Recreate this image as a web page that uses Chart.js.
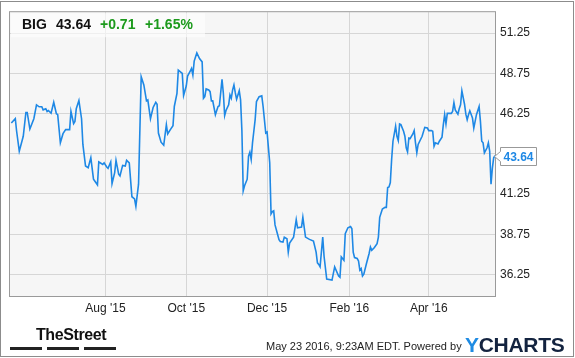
<!DOCTYPE html>
<html>
<head>
<meta charset="utf-8">
<script src="https://cdn.jsdelivr.net/npm/chart.js@4.4.1/dist/chart.umd.min.js"></script>
<style>
  body { margin: 0; background: #fff; }
  #wrap { position: relative; width: 575px; height: 358px; font-family: "Liberation Sans", Arial, sans-serif; }
  #wrap canvas { position: absolute; left: 0; top: 0; }
  .t { position: absolute; white-space: nowrap; line-height: 14px; }
  .hd { top: 17px; font-size: 14px; font-weight: bold; color: #111; }
  .up { color: #1c9a1c; }
  .bar { position: absolute; top: 347px; height: 3px; background: #222; }
</style>
</head>
<body>
<div id="wrap">
  <canvas id="chart" width="575" height="358"></canvas>
  <span class="t hd" id="tk" style="left:22px"></span>
  <span class="t hd" id="px" style="left:56px"></span>
  <span class="t hd up" id="ch" style="left:100px"></span>
  <span class="t hd up" id="pc" style="left:145px"></span>
  <span class="t" style="left:36px; top:328px; font-family:'Liberation Sans Narrow','Liberation Sans',sans-serif; font-weight:bold; font-size:16px; letter-spacing:-0.4px; color:#111;">TheStreet</span>
  <div class="bar" style="left:10px; width:32px"></div>
  <div class="bar" style="left:47px; width:32px"></div>
  <div class="bar" style="left:84px; width:32px"></div>
  <span class="t" style="left:266px; top:339px; font-size:11px; color:#222;">May 23 2016, 9:23AM EDT. Powered by</span>
  <span class="t" style="left:465px; top:334px; font-size:21px; line-height:21px; font-weight:bold; letter-spacing:-0.3px;"><span style="color:#1e8be3">Y</span><span style="color:#13233f">CHARTS</span></span>
</div>
<script>
// quote header
const ticker = 'BIG';
const lastQuote = '43.64';
const change = '+0.71';
const changePct = '+1.65%';

// days counted from 22 May 2015, closing prices
const days = [
  0, 3, 4, 6, 9, 11, 12, 14, 17, 19, 21, 23, 24, 26, 27, 28, 30, 32, 34, 35, 37, 39, 41, 44, 45, 47, 48, 49, 51, 53, 54, 56, 58, 60, 62, 65, 66,
  67, 69, 70, 72, 73, 75, 76, 78, 79, 81, 82, 84, 86, 87, 89, 91, 93, 94, 96, 98, 100, 102, 103, 105, 107, 109, 110, 111, 113, 115, 117, 118, 120, 122, 123, 125, 126, 129, 130, 132, 133, 135, 136, 137, 138, 139, 140, 142, 144,
  145, 146, 147, 149, 150, 151, 152, 154, 155, 156, 157, 159, 160, 161, 162, 164, 165, 166, 167, 168, 169, 170, 172, 173, 174, 175, 176, 178, 179, 180, 181, 182, 183, 184, 185, 187, 189, 190, 192, 193, 195, 196, 197, 198, 199, 201, 202, 203, 205,
  206, 208, 209, 210, 213, 215, 216, 219, 220, 222, 225, 228, 230, 231, 232, 233, 235, 236, 238, 242, 244, 247, 248, 249, 251, 252, 254, 256, 257, 258, 259, 261, 262, 263, 264, 265, 266, 268, 270, 271, 272, 274, 276, 277, 278, 280,
  282, 283, 284, 285, 286, 287, 288, 290, 291, 292, 293, 294, 296, 297, 298, 299, 300, 301, 303, 304, 305, 306, 307, 310, 312, 314, 315, 317, 318, 319, 320, 322, 323, 325, 326, 327, 328, 329, 332, 333, 334, 335, 337, 338, 339, 340, 342, 343, 344, 345, 346, 348, 349, 350, 351, 353, 354, 355, 356, 357, 359, 360, 361, 362, 363, 364, 365
];
const prices = [
  45.66, 45.93, 45.15, 43.91, 44.84, 46.32, 46.32, 45.29, 45.93, 46.79, 46.67, 46.67, 46.48, 46.55, 46.38, 46.44, 46.27, 46.95, 46.24, 46.18, 44.43, 45.00, 45.25, 45.25, 46.38, 45.62, 45.76, 46.55, 47.06, 45.93, 44.33, 42.99, 42.88, 43.50, 42.17, 41.82, 43.24,
  43.19, 43.09, 43.19, 42.93, 42.85, 43.24, 41.90, 42.58, 43.34, 42.48, 42.37, 43.03, 42.99, 43.34, 43.19, 41.08, 40.94, 40.48, 41.86, 48.54, 48.03, 47.04, 47.10, 45.93, 46.63, 46.95, 46.83, 45.04, 44.47, 44.28, 45.56, 44.98, 45.25, 45.50, 46.69, 47.51, 48.95, 48.74, 47.37, 47.96, 48.58, 48.89, 49.05, 48.64, 49.51, 49.77, 50.02, 49.67, 49.46,
  47.20, 47.30, 47.78, 47.72, 47.61, 47.04, 47.04, 46.18, 46.44, 46.69, 46.73, 48.37, 47.51, 46.13, 46.44, 46.79, 47.41, 47.20, 47.72, 48.03, 47.55, 47.14, 47.67, 47.10, 45.19, 41.45, 41.76, 42.17, 43.61, 43.85, 43.40, 44.43, 45.15, 45.87, 47.00, 47.30, 47.35, 46.69, 45.04, 45.10, 43.19, 40.01, 40.15, 40.20, 39.33, 38.72, 38.41, 38.30, 38.26,
  38.57, 38.47, 37.64, 38.20, 38.57, 39.66, 39.15, 39.19, 39.80, 38.57, 38.43, 38.32, 37.64, 36.97, 36.87, 36.72, 38.57, 37.38, 35.96, 35.90, 36.72, 36.15, 36.07, 37.34, 37.13, 38.78, 39.15, 39.23, 39.09, 37.64, 37.30, 37.24, 37.09, 36.52, 36.62, 36.15, 36.27, 36.93, 37.55, 37.95, 37.75, 37.92, 38.16, 38.57, 39.80, 40.32,
  40.42, 40.42, 41.65, 41.69, 41.96, 43.40, 44.53, 45.46, 44.84, 44.57, 45.60, 45.56, 45.15, 44.84, 44.12, 43.87, 44.73, 44.70, 44.98, 45.19, 44.43, 43.81, 44.33, 44.84, 45.39, 45.35, 45.19, 45.19, 45.15, 44.22, 44.43, 44.36, 44.53, 44.78, 45.56, 46.18, 45.60, 46.26, 46.26, 46.38, 46.93, 46.48, 46.21, 46.55, 46.79, 47.66, 46.83, 46.21, 45.87, 46.18, 46.42, 45.97, 45.35, 45.76, 46.18, 46.69, 45.76, 44.53, 44.43, 43.81, 44.12, 44.43, 43.91, 41.86, 42.85, 43.50, 43.64
];

const xTickDays = [71, 132, 193, 255, 315];
const xTickLabels = ["Aug '15", "Oct '15", "Dec '15", "Feb '16", "Apr '16"];
const yTicks = [36.25, 38.75, 41.25, 43.75, 46.25, 48.75, 51.25];

document.getElementById('tk').textContent = ticker;
document.getElementById('px').textContent = lastQuote;
document.getElementById('ch').textContent = change;
document.getElementById('pc').textContent = changePct;

const lastPrice = prices[prices.length - 1];
const blue = '#1e88e5';

// plot background, borders, header box and last price tag
const decor = {
  id: 'decor',
  beforeDraw(chart) {
    const { ctx, chartArea: a } = chart;
    ctx.save();
    ctx.fillStyle = '#f6f6f6';
    ctx.fillRect(a.left, a.top, a.right - a.left, a.bottom - a.top);
    ctx.restore();
  },
  afterDraw(chart) {
    const { ctx, chartArea: a } = chart;
    ctx.save();
    ctx.fillStyle = 'rgba(255,255,255,0.6)';
    ctx.fillRect(a.left + 1, a.top + 1, 194, 24);

    ctx.strokeStyle = '#9a9a9a';
    ctx.lineWidth = 1;
    ctx.strokeRect(a.left - 0.5, a.top - 0.5, a.right - a.left + 1, a.bottom - a.top + 1);

    ctx.strokeStyle = '#8c8c8c';
    ctx.strokeRect(0.5, 1.5, 573, 355);

    const py = Math.round(chart.scales.y.getPixelForValue(lastPrice)) + 0.5;
    const x0 = a.right - 0.5;
    ctx.beginPath();
    ctx.moveTo(x0, py);
    ctx.lineTo(x0 + 6, py - 5);
    ctx.lineTo(x0 + 6, py - 9);
    ctx.lineTo(x0 + 42, py - 9);
    ctx.lineTo(x0 + 42, py + 9);
    ctx.lineTo(x0 + 6, py + 9);
    ctx.lineTo(x0 + 6, py + 5);
    ctx.closePath();
    ctx.fillStyle = '#fff';
    ctx.fill();
    ctx.strokeStyle = '#999';
    ctx.stroke();
    ctx.fillStyle = blue;
    ctx.font = 'bold 12px "Liberation Sans", Arial, sans-serif';
    ctx.textAlign = 'center';
    ctx.textBaseline = 'middle';
    ctx.fillText(lastPrice.toFixed(2), x0 + 24, py + 1);
    ctx.restore();
  }
};

new Chart(document.getElementById('chart'), {
  type: 'line',
  data: {
    datasets: [{
      data: days.map((d, i) => ({ x: d, y: prices[i] })),
      borderColor: blue,
      borderWidth: 1.6,
      pointRadius: 0,
      tension: 0,
      fill: false
    }]
  },
  options: {
    responsive: false,
    animation: false,
    layout: { padding: { left: 10, top: 10, right: 0, bottom: 0 } },
    plugins: { legend: { display: false }, tooltip: { enabled: false } },
    scales: {
      x: {
        type: 'linear',
        min: -1,
        max: 365,
        afterBuildTicks: s => { s.ticks = xTickDays.map(v => ({ value: v })); },
        afterFit: s => { s.height = 62; },
        grid: { color: '#d6d6d6', drawTicks: false },
        border: { display: false },
        ticks: {
          autoSkip: false,
          maxRotation: 0,
          padding: 5,
          color: '#222',
          font: { family: '"Liberation Sans", Arial, sans-serif', size: 12 },
          callback: v => xTickLabels[xTickDays.indexOf(v)]
        }
      },
      y: {
        position: 'right',
        min: 34.91,
        max: 52.55,
        afterBuildTicks: s => { s.ticks = yTicks.map(v => ({ value: v })); },
        afterFit: s => { s.width = 80; },
        grid: { color: '#d6d6d6', drawTicks: false },
        border: { display: false },
        ticks: {
          padding: 5,
          color: '#222',
          font: { family: '"Liberation Sans", Arial, sans-serif', size: 12 },
          callback: v => Math.abs(v - lastPrice) < 0.8 ? '' : v.toFixed(2)
        }
      }
    }
  },
  plugins: [decor]
});
</script>
</body>
</html>
